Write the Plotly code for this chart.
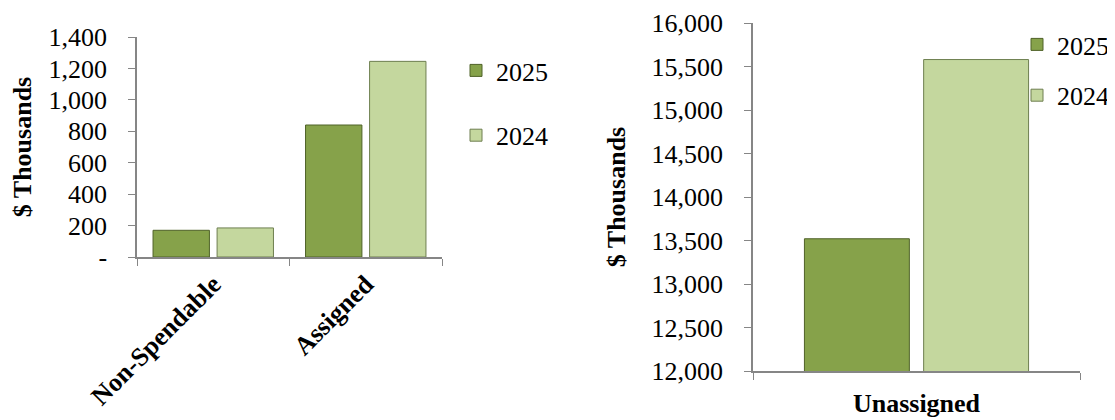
import plotly.graph_objects as go

# ---- data ----
left_categories = ["Non-Spendable", "Assigned"]
left_2025 = [170, 840]
left_2024 = [185, 1245]

right_categories = ["Unassigned"]
right_2025 = [13520]
right_2024 = [15580]

left_tickvals = [0, 200, 400, 600, 800, 1000, 1200, 1400]
left_ticktext = ["-", "200", "400", "600", "800", "1,000", "1,200", "1,400"]

series_names = ["2025", "2024"]

FONT = "Liberation Serif"
C2025 = "#86A24A"
C2024 = "#C4D79E"
EDGE2025 = "#4F6228"
EDGE2024 = "#6E7F50"
AXIS = "#868686"

right_pos = list(range(len(right_categories)))

fig = go.Figure()

fig.add_trace(go.Bar(x=left_categories, y=left_2025, name=series_names[0],
                     marker=dict(color=C2025, line=dict(color=EDGE2025, width=1)),
                     xaxis="x", yaxis="y", legend="legend", legendgroup="a"))
fig.add_trace(go.Bar(x=left_categories, y=left_2024, name=series_names[1],
                     marker=dict(color=C2024, line=dict(color=EDGE2024, width=1)),
                     xaxis="x", yaxis="y", legend="legend", legendgroup="b"))
fig.add_trace(go.Bar(x=right_pos, y=right_2025, name=series_names[0],
                     marker=dict(color=C2025, line=dict(color=EDGE2025, width=1)),
                     xaxis="x2", yaxis="y2", legend="legend2", legendgroup="c"))
fig.add_trace(go.Bar(x=right_pos, y=right_2024, name=series_names[1],
                     marker=dict(color=C2024, line=dict(color=EDGE2024, width=1)),
                     xaxis="x2", yaxis="y2", legend="legend2", legendgroup="d"))

W, H = 1115, 420
S = 8  # page body offset

def px_x(p):
    return (p - S) / W

def px_y(p):
    return 1 - (p - S) / H

tick_font = dict(family=FONT, size=26, color="black")
bold_font = dict(family=FONT, size=26, color="black", weight="bold")

R = 0.576

fig.update_layout(
    width=W, height=H,
    margin=dict(l=0, r=0, t=0, b=0, autoexpand=False),
    paper_bgcolor="white", plot_bgcolor="white",
    font=dict(family=FONT, size=26, color="black"),
    barmode="group", bargap=0.16, bargroupgap=0.12,
    xaxis=dict(domain=[px_x(137), px_x(442)], anchor="y", automargin=False,
               showline=True, linecolor=AXIS, linewidth=1.5,
               ticks="outside", tickson="boundaries", ticklen=7, tickcolor=AXIS,
               tickangle=-45, tickfont=bold_font, showgrid=False),
    yaxis=dict(domain=[px_y(257), px_y(37)], anchor="x", range=[0, 1400], automargin=False,
               tickvals=left_tickvals, ticktext=left_ticktext, ticklabeloverflow="allow",
               showline=True, linecolor=AXIS, linewidth=1.5,
               ticks="outside", ticklen=7, tickcolor=AXIS, ticklabelstandoff=16,
               tickfont=tick_font, showgrid=False, zeroline=False,
               title=dict(text="$ Thousands", standoff=14, font=bold_font)),
    xaxis2=dict(domain=[px_x(753), px_x(1080)], anchor="y2", automargin=False,
                type="linear", range=[-R, R],
                tickvals=right_pos, ticktext=right_categories,
                showline=True, linecolor=AXIS, linewidth=1.5,
                ticks="", ticklabelstandoff=8,
                minor=dict(tickvals=[-R, R], ticks="outside", ticklen=7, tickcolor=AXIS,
                           showgrid=False),
                tickfont=bold_font, showgrid=False, zeroline=False),
    yaxis2=dict(domain=[px_y(371), px_y(23)], anchor="x2", range=[12000, 16000], automargin=False,
                dtick=500, tickformat=",", ticklabeloverflow="allow",
                showline=True, linecolor=AXIS, linewidth=1.5,
                ticks="outside", ticklen=7, tickcolor=AXIS, ticklabelstandoff=16,
                tickfont=tick_font, showgrid=False, zeroline=False,
                title=dict(text="$ Thousands", standoff=18, font=bold_font)),
    legend=dict(x=px_x(456), y=px_y(47), xanchor="left", yanchor="top",
                traceorder="grouped", tracegroupgap=28,
                font=dict(family=FONT, size=26, color="black"),
                bgcolor="rgba(0,0,0,0)"),
    legend2=dict(x=px_x(1017), y=px_y(21), xanchor="left", yanchor="top",
                 traceorder="grouped", tracegroupgap=14,
                 font=dict(family=FONT, size=26, color="black"),
                 bgcolor="rgba(0,0,0,0)"),
)

fig.write_html("out.html")
